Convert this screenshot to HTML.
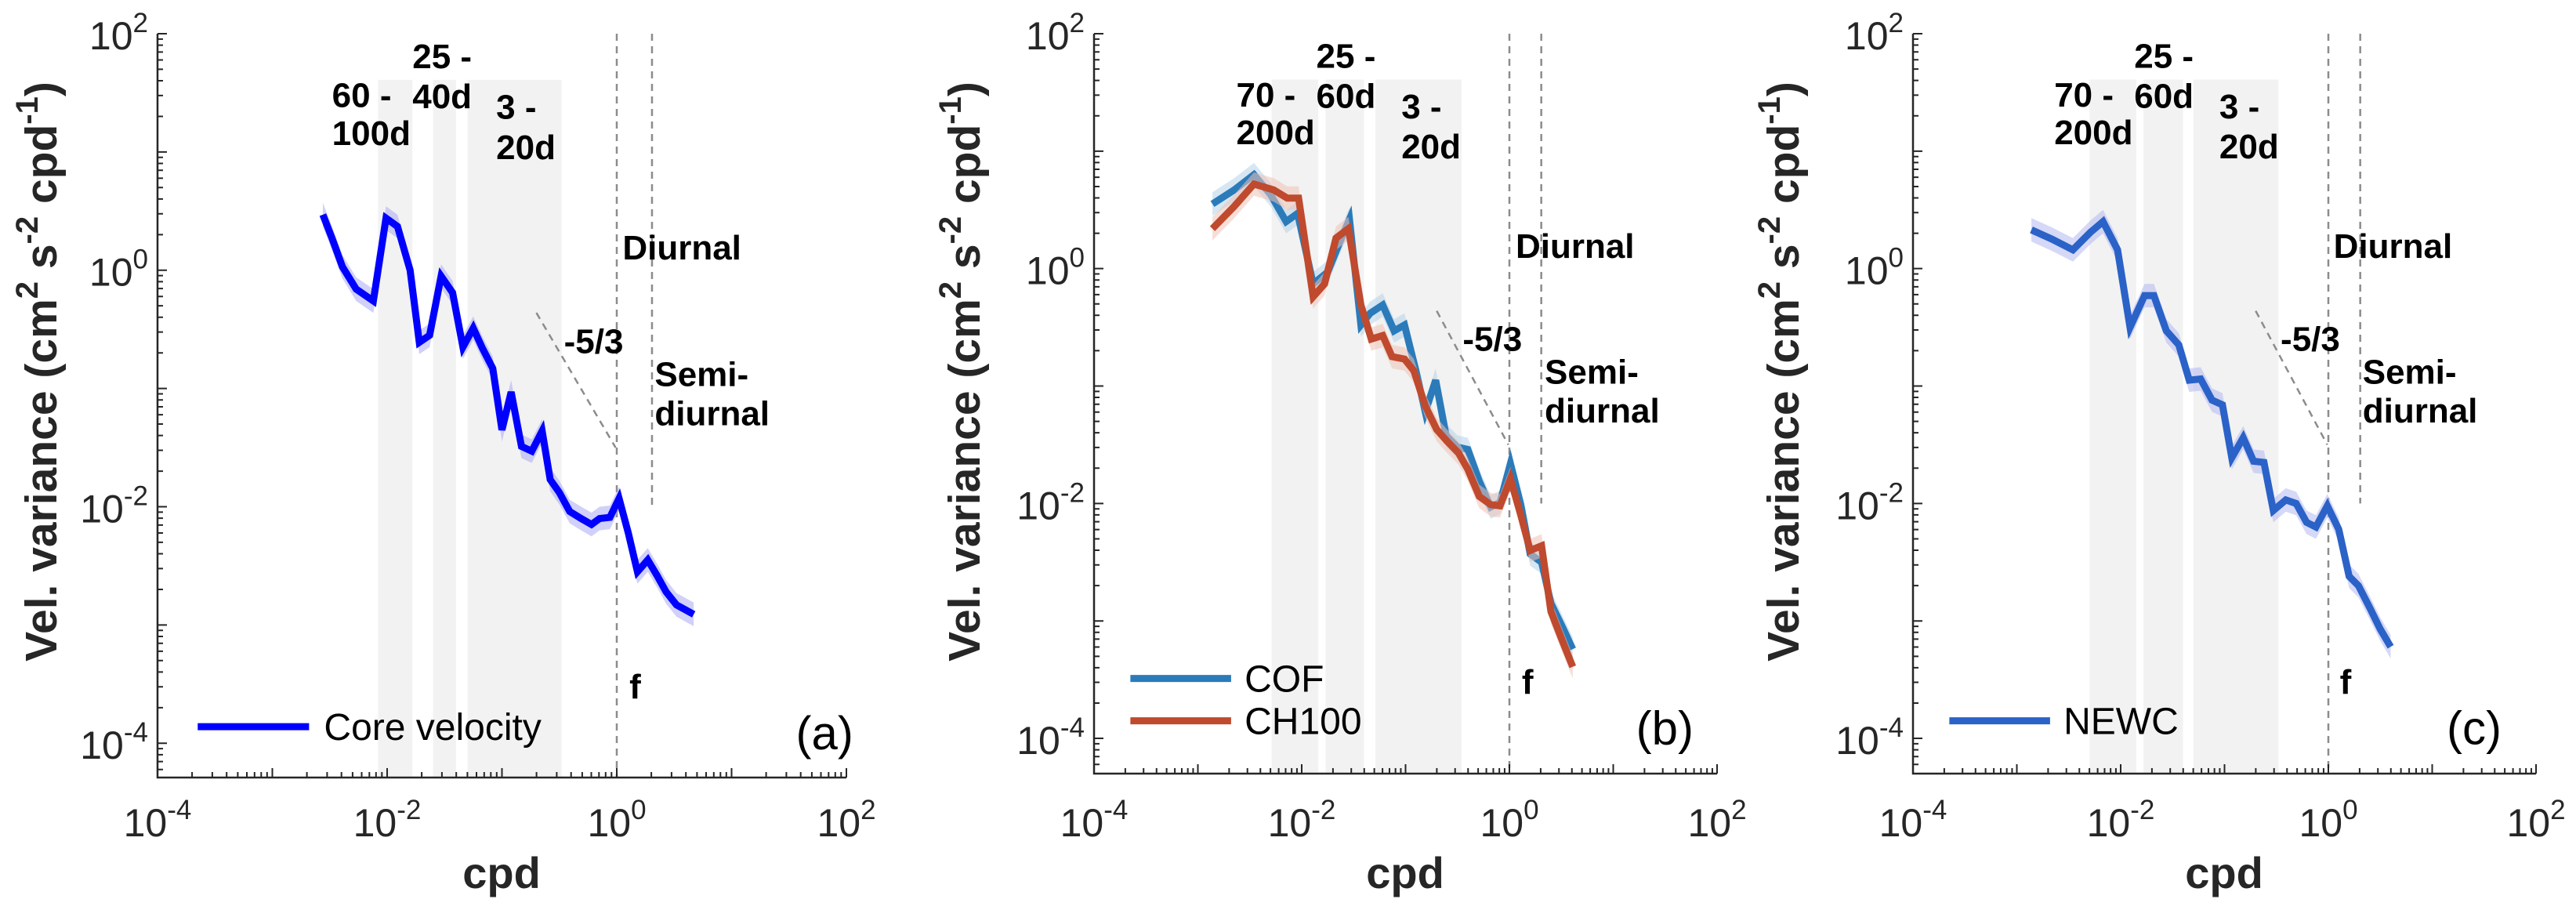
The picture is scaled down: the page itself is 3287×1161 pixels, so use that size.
<!DOCTYPE html>
<html><head><meta charset="utf-8"><style>
html,body{margin:0;padding:0;background:#fff;}
svg{display:block;font-family:"Liberation Sans",sans-serif;}
</style></head><body>
<svg id="fig" width="3287" height="1161" viewBox="0 0 3287 1161" xmlns="http://www.w3.org/2000/svg"></svg>
<script>
// ---- data (log10 values) ----
const coreLogCpd = [-2.56,-2.48,-2.39,-2.27,-2.12,-2.01,-1.91,-1.80,-1.72,-1.63,-1.53,-1.43,-1.34,-1.25,-1.17,-1.08,-1.00,-0.92,-0.83,-0.74,-0.65,-0.58,-0.50,-0.41,-0.31,-0.22,-0.15,-0.06,0.02,0.10,0.18,0.27,0.35,0.43,0.52,0.67];
const coreLogVar = [0.47,0.27,0.03,-0.16,-0.26,0.44,0.37,0.00,-0.61,-0.55,-0.05,-0.19,-0.65,-0.49,-0.66,-0.83,-1.35,-1.03,-1.49,-1.53,-1.36,-1.77,-1.88,-2.04,-2.10,-2.15,-2.10,-2.09,-1.93,-2.22,-2.55,-2.45,-2.58,-2.72,-2.83,-2.91];
const cofLogCpd = [-2.86,-2.65,-2.46,-2.30,-2.15,-2.04,-1.89,-1.75,-1.64,-1.54,-1.43,-1.34,-1.22,-1.11,-1.01,-0.90,-0.81,-0.71,-0.61,-0.50,-0.40,-0.29,-0.18,-0.09,0.01,0.11,0.20,0.31,0.40,0.51,0.61];
const cofLogVar = [0.55,0.67,0.80,0.63,0.40,0.47,-0.13,-0.03,0.21,0.42,-0.48,-0.38,-0.31,-0.53,-0.48,-0.87,-1.22,-0.95,-1.42,-1.52,-1.54,-1.81,-2.03,-1.99,-1.66,-2.01,-2.43,-2.50,-2.85,-3.05,-3.24];
const ch100LogCpd = [-2.86,-2.65,-2.46,-2.27,-2.14,-2.03,-1.89,-1.78,-1.67,-1.55,-1.43,-1.33,-1.22,-1.13,-1.01,-0.92,-0.81,-0.70,-0.60,-0.49,-0.40,-0.29,-0.18,-0.09,0.01,0.11,0.20,0.31,0.40,0.51,0.61];
const ch100LogVar = [0.34,0.53,0.72,0.67,0.60,0.60,-0.24,-0.13,0.26,0.34,-0.31,-0.60,-0.57,-0.75,-0.77,-0.87,-1.17,-1.37,-1.47,-1.57,-1.71,-1.94,-2.01,-2.02,-1.79,-2.10,-2.40,-2.36,-2.92,-3.17,-3.39];
const newcLogCpd = [-2.86,-2.66,-2.46,-2.29,-2.17,-2.03,-1.91,-1.77,-1.68,-1.56,-1.44,-1.34,-1.23,-1.12,-1.02,-0.93,-0.82,-0.72,-0.62,-0.53,-0.41,-0.31,-0.21,-0.12,-0.01,0.10,0.20,0.29,0.40,0.50,0.60];
const newcLogVar = [0.33,0.25,0.16,0.31,0.40,0.16,-0.50,-0.23,-0.23,-0.53,-0.65,-0.95,-0.94,-1.12,-1.16,-1.61,-1.44,-1.64,-1.65,-2.06,-1.97,-2.00,-2.16,-2.20,-2.02,-2.22,-2.62,-2.70,-2.89,-3.07,-3.22];
const bandsA = [[-2.08,-1.78],[-1.60,-1.40],[-1.30,-0.48]];
const bandsB = [[-2.29,-1.84],[-1.77,-1.40],[-1.29,-0.46]];
const bandsC = [[-2.30,-1.85],[-1.78,-1.40],[-1.30,-0.48]];
const bandLabelsA = [["60 -","100d"],["25 -","40d"],["3 -","20d"]];
const bandLabelsBC = [["70 -","200d"],["25 -","60d"],["3 -","20d"]];
const tickExps = [-4,-2,0,2];
const yTickExps = [-4,-2,0,2];

const NS="http://www.w3.org/2000/svg";
const svg=document.getElementById('fig');
function mk(tag,attrs,parent){const e=document.createElementNS(NS,tag);for(const k in attrs)e.setAttribute(k,attrs[k]);(parent||svg).appendChild(e);return e;}

function panel(cfg){
  const g=mk('g',{});
  
  
  const X=v=>cfg.L+(v+4)/6*(cfg.R-cfg.L);
  const Y=v=>cfg.B-(v-cfg.yMin)/(2-cfg.yMin)*(cfg.B-cfg.T);
  cfg.bands.forEach((b,i)=>{
    const r=mk('rect',{x:X(b[0]),y:Y(1.61),width:X(b[1])-X(b[0]),height:cfg.B-Y(1.61),fill:'#f2f2f2'},g);
    
    
  });
  const dash={stroke:'#8c8c8c','stroke-width':2.5,'stroke-dasharray':'9,7',fill:'none'};
  let d1=mk('line',Object.assign({x1:X(0),y1:Y(2),x2:X(0),y2:cfg.B},dash),g);
  
  
  let d2=mk('line',Object.assign({x1:X(0.307),y1:Y(2),x2:X(0.307),y2:Y(-2)},dash),g);
  
  
  let d3=mk('line',Object.assign({x1:X(-0.70),y1:Y(-0.36),x2:X(-0.01),y2:Y(-1.50)},dash),g);
  
  
  cfg.series.forEach(s=>{
    let up='',dn='';
    s.x.forEach((v,i)=>{up+=(i?'L':'M')+X(v)+','+Y(s.y[i]+0.1);});
    for(let i=s.x.length-1;i>=0;i--){dn+='L'+X(s.x[i])+','+Y(s.y[i]-0.1);}
    const band=mk('path',{d:up+dn+'Z',fill:s.fill,opacity:0.55},g);
    
    
    let p='';s.x.forEach((v,i)=>{p+=(i?'L':'M')+X(v)+','+Y(s.y[i]);});
    const ln=mk('path',{d:p,stroke:s.color,'stroke-width':9,fill:'none','stroke-linejoin':'miter'},g);
    
    
  });
  const ax=mk('path',{d:`M${cfg.L},${cfg.T}L${cfg.L},${cfg.B}L${cfg.R},${cfg.B}`,stroke:'#262626','stroke-width':2.5,fill:'none'},g);
  
  
  let tk='';
  for(let e=-4;e<2;e++){for(let m=1;m<10;m++){const v=e+Math.log10(m);const x=X(v);tk+=`M${x},${cfg.B}L${x},${cfg.B-(m==1?12:7)}`;}}
  tk+=`M${X(2)},${cfg.B}L${X(2)},${cfg.B-12}`;
  for(let e=-5;e<2;e++){for(let m=1;m<10;m++){const v=e+Math.log10(m);if(v<cfg.yMin)continue;const y=Y(v);tk+=`M${cfg.L},${y}L${cfg.L+(m==1?12:7)},${y}`;}}
  tk+=`M${cfg.L},${Y(2)}L${cfg.L+12},${Y(2)}`;
  const tks=mk('path',{d:tk,stroke:'#262626','stroke-width':2,fill:'none'},g);
  
  
  tickExps.forEach(e=>{
    const t=mk('text',{x:X(e),y:1067,'font-size':50,fill:'#262626','text-anchor':'middle'},g);
    
    
    t.innerHTML=`10<tspan dy="-22" font-size="35">${e}</tspan>`;
  });
  yTickExps.forEach(e=>{
    const t=mk('text',{x:cfg.L-12,y:Y(e)+20,'font-size':50,fill:'#262626','text-anchor':'end'},g);
    
    
    t.innerHTML=`10<tspan dy="-22" font-size="35">${e}</tspan>`;
  });
  const yt=mk('text',{x:0,y:0,'font-size':57,'font-weight':'bold',fill:'#262626','text-anchor':'middle',transform:`translate(${cfg.yTitleX},474) rotate(-90)`},g);
  
  
  yt.innerHTML='Vel. variance (cm<tspan dy="-24" font-size="40">2</tspan><tspan dy="24"> s</tspan><tspan dy="-24" font-size="40">-2</tspan><tspan dy="24"> cpd</tspan><tspan dy="-24" font-size="40">-1</tspan><tspan dy="24">)</tspan>';
  const xt=mk('text',{x:cfg.xTitleX,y:1133,'font-size':56,'font-weight':'bold',fill:'#262626','text-anchor':'middle'},g);
  xt.textContent='cpd';
  
  
  const A=(txt,lx,ly,name,extra)=>{const t=mk('text',Object.assign({x:X(lx),y:Y(ly),'font-size':44,'font-weight':'bold',fill:'#000'},extra||{}),g);t.textContent=txt;return t;};
  const bx=cfg.bandTextX;
  A(cfg.bandLabels[0][0],bx[0],1.38,'band-label-1');A(cfg.bandLabels[0][1],bx[0],1.06,'band-label-1b');
  A(cfg.bandLabels[1][0],bx[1],1.71,'band-label-2');A(cfg.bandLabels[1][1],bx[1],1.37,'band-label-2b');
  A(cfg.bandLabels[2][0],bx[2],1.28,'band-label-3');A(cfg.bandLabels[2][1],bx[2],0.94,'band-label-3b');
  A('Diurnal',cfg.off+0.05,0.09,'diurnal-label');
  A('-5/3',cfg.off-0.46,-0.70,'slope-label');
  A('Semi-',cfg.off+0.33,-0.98,'semidiurnal-label');
  A('diurnal',cfg.off+0.33,-1.31,'semidiurnal-label-2');
  A('f',cfg.off+0.11,-3.62,'f-label');
  A(cfg.letter,cfg.letterX,-4.05,'panel-letter',{'font-size':60,'font-weight':'normal'});
  cfg.series.forEach((s,i)=>{
    const ly=cfg.legendY[i];
    const l=mk('line',{x1:X(-3.65),y1:Y(ly),x2:X(-2.68),y2:Y(ly),stroke:s.color,'stroke-width':9},g);
    
    
    const t=mk('text',{x:X(-2.55),y:Y(ly)+17,'font-size':48,fill:'#000'},g);
    t.textContent=s.label;
    
    
  });
}

panel({name:'panel-a',L:201,R:1080,T:43,B:992,yMin:-4.29,bands:bandsA,bandLabels:bandLabelsA,bandTextX:[-2.48,-1.78,-1.05],off:0,letter:'(a)',letterX:1.56,yTitleX:72,xTitleX:640,legendY:[-3.86],
  series:[{name:'core-velocity',label:'Core velocity',x:coreLogCpd,y:coreLogVar,color:'#0000ff',fill:'#a9a9f2'}]});
panel({name:'panel-b',L:1396,R:2191,T:43,B:987,yMin:-4.30,bands:bandsB,bandLabels:bandLabelsBC,bandTextX:[-2.63,-1.86,-1.04],off:0.01,letter:'(b)',letterX:1.22,yTitleX:1250,xTitleX:1793,legendY:[-3.49,-3.85],
  series:[{name:'cof',label:'COF',x:cofLogCpd,y:cofLogVar,color:'#2b7bba',fill:'#b5d3ea'},
          {name:'ch100',label:'CH100',x:ch100LogCpd,y:ch100LogVar,color:'#bf4a2e',fill:'#eec3b7'}]});
panel({name:'panel-c',L:2441,R:3236,T:43,B:987,yMin:-4.30,bands:bandsC,bandLabels:bandLabelsBC,bandTextX:[-2.64,-1.87,-1.05],off:0,letter:'(c)',letterX:1.14,yTitleX:2295,xTitleX:2838,legendY:[-3.85],
  series:[{name:'newc',label:'NEWC',x:newcLogCpd,y:newcLogVar,color:'#2a62c8',fill:'#b3b8f0'}]});
</script>
</body></html>
